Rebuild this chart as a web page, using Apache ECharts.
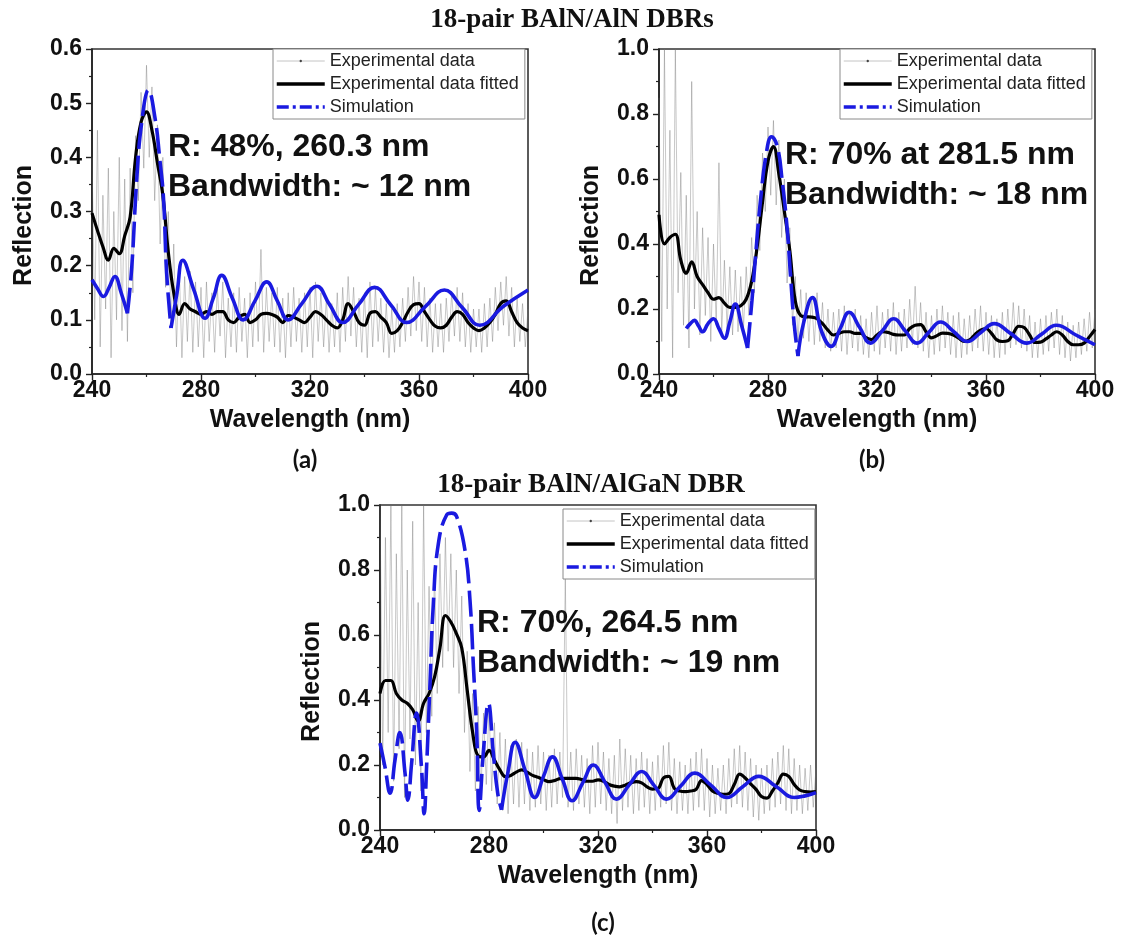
<!DOCTYPE html>
<html><head><meta charset="utf-8">
<script src="https://cdn.jsdelivr.net/npm/echarts@6/dist/echarts.min.js"></script>
<style>html,body{margin:0;padding:0;background:#fff}#c{width:1126px;height:936px}</style>
</head><body><div id="c"></div>
<script>
// ---------- DATA ----------
const WL_EVEN = [240,242,244,246,248,250,252,254,256,258,260,262,264,266,268,270,272,274,276,278,280,282,284,286,288,290,292,294,296,298,300,302,304,306,308,310,312,314,316,318,320,322,324,326,328,330,332,334,336,338,340,342,344,346,348,350,352,354,356,358,360,362,364,366,368,370,372,374,376,378,380,382,384,386,388,390,392,394,396,398,400];
const WL_ODD = [241,243,245,247,249,251,253,255,257,259,261,263,265,267,269,271,273,275,277,279,281,283,285,287,289,291,293,295,297,299,301,303,305,307,309,311,313,315,317,319,321,323,325,327,329,331,333,335,337,339,341,343,345,347,349,351,353,355,357,359,361,363,365,367,369,371,373,375,377,379,381,383,385,387,389,391,393,395,397,399];
const NAMES = ['Experimental data','Experimental data fitted','Simulation'];

// Panel (a) 18-pair BAlN/AlN
const FIT_A = [0.297,0.265,0.235,0.21,0.232,0.222,0.255,0.29,0.40,0.465,0.484,0.45,0.39,0.33,0.225,0.15,0.11,0.13,0.12,0.115,
 0.11,0.115,0.11,0.115,0.115,0.1,0.095,0.105,0.11,0.095,
 0.1,0.11,0.112,0.11,0.105,0.095,0.108,0.105,0.1,0.095,
 0.105,0.115,0.11,0.1,0.09,0.085,0.1,0.13,0.115,0.095,
 0.09,0.112,0.115,0.105,0.095,0.075,0.08,0.095,0.115,0.128,
 0.13,0.115,0.1,0.088,0.085,0.09,0.105,0.115,0.11,0.095,
 0.085,0.08,0.085,0.095,0.11,0.13,0.135,0.115,0.095,0.085,0.08];
const EXP_A_HI = [0.40,0.45,0.33,0.38,0.30,0.40,0.36,0.38,0.44,0.52,0.57,0.53,0.46,0.40,0.30,0.24,0.20,0.18,0.19,0.17,
 0.16,0.17,0.15,0.16,0.17,0.14,0.15,0.16,0.14,0.15,
 0.17,0.23,0.16,0.15,0.16,0.14,0.15,0.16,0.14,0.15,
 0.16,0.17,0.15,0.14,0.13,0.15,0.16,0.18,0.16,0.14,
 0.15,0.17,0.16,0.14,0.13,0.12,0.13,0.14,0.16,0.18,
 0.17,0.16,0.14,0.13,0.13,0.14,0.15,0.16,0.15,0.13,
 0.12,0.12,0.13,0.14,0.16,0.17,0.18,0.16,0.14,0.13,0.12];
const EXP_A_LO = [0.10,0.05,0.12,0.03,0.10,0.08,0.06,0.15,0.32,0.38,0.40,0.32,0.24,0.16,0.09,0.05,0.03,0.06,0.04,0.05,
 0.03,0.06,0.04,0.07,0.03,0.05,0.04,0.06,0.03,0.05,
 0.06,0.04,0.06,0.05,0.04,0.03,0.05,0.06,0.04,0.05,
 0.03,0.06,0.05,0.04,0.05,0.04,0.06,0.07,0.05,0.04,
 0.03,0.05,0.06,0.04,0.03,0.04,0.05,0.06,0.07,0.08,
 0.06,0.05,0.04,0.05,0.04,0.06,0.07,0.06,0.05,0.04,
 0.05,0.04,0.05,0.06,0.08,0.09,0.07,0.05,0.06,0.05];
const SIM_A_X = [240,242,244.2,246.3,248.4,250.7,253,254.6,256.4,258.2,260.7,263.2,264.8,266.2,267.4,269,271.2,273.3,277.4,281.5,284.5,287.6,291.5,295.5,299.8,304.1,308,312,317,322.5,327.2,332,337.8,343.7,349.6,355.5,362.4,369.3,375.8,382.3,391,400];
const SIM_A_Y = [0.174,0.158,0.143,0.16,0.18,0.15,0.112,0.198,0.358,0.463,0.524,0.47,0.4,0.327,0.186,0.085,0.15,0.21,0.155,0.103,0.14,0.182,0.14,0.1,0.135,0.17,0.135,0.1,0.13,0.162,0.128,0.095,0.128,0.16,0.128,0.095,0.125,0.155,0.123,0.09,0.125,0.155];
const DASH_A = [253, 269];

// Panel (b)
const FIT_B = [0.49,0.40,0.42,0.43,0.35,0.31,0.345,0.30,0.275,0.25,0.23,0.235,0.218,0.205,0.205,0.21,0.23,0.285,0.39,0.53,
 0.655,0.70,0.615,0.50,0.38,0.225,0.18,0.176,0.175,0.17,
 0.155,0.135,0.12,0.125,0.13,0.13,0.125,0.125,0.112,0.106,
 0.12,0.13,0.128,0.122,0.12,0.12,0.14,0.15,0.152,0.13,
 0.111,0.118,0.126,0.125,0.12,0.11,0.10,0.105,0.122,0.135,
 0.14,0.125,0.105,0.10,0.102,0.125,0.147,0.143,0.12,0.097,
 0.098,0.108,0.12,0.13,0.12,0.10,0.09,0.09,0.095,0.115,0.137];
const EXP_B_HI = [0.85,1.0,0.75,1.0,0.62,0.55,0.9,0.5,0.45,0.42,0.40,0.65,0.35,0.33,0.32,0.30,0.33,0.42,0.55,0.68,
 0.76,0.78,0.72,0.6,0.45,0.3,0.26,0.25,0.24,0.25,
 0.22,0.2,0.19,0.2,0.21,0.19,0.2,0.18,0.17,0.19,
 0.21,0.19,0.2,0.22,0.19,0.2,0.23,0.27,0.22,0.19,
 0.18,0.2,0.21,0.19,0.18,0.19,0.17,0.18,0.2,0.21,
 0.19,0.18,0.17,0.19,0.2,0.22,0.21,0.2,0.18,0.16,
 0.17,0.18,0.19,0.2,0.18,0.16,0.15,0.16,0.17,0.19,0.2];
const EXP_B_LO = [0.1,0.2,0.05,0.25,0.15,0.08,0.2,0.12,0.18,0.1,0.15,0.12,0.14,0.12,0.13,0.14,0.18,0.25,0.38,0.5,
 0.55,0.52,0.42,0.28,0.15,0.1,0.11,0.1,0.09,0.1,
 0.08,0.07,0.08,0.07,0.06,0.08,0.07,0.06,0.05,0.07,
 0.06,0.08,0.07,0.06,0.07,0.08,0.09,0.08,0.07,0.05,
 0.06,0.07,0.08,0.06,0.05,0.05,0.06,0.07,0.08,0.07,
 0.06,0.05,0.05,0.06,0.08,0.09,0.08,0.07,0.05,0.05,
 0.06,0.07,0.08,0.06,0.05,0.04,0.05,0.06,0.07,0.08];
const SIM_B_X = [250,251.5,253,254.5,256,258,260,262,264,266,268,270.3,272.5,274.1,275.4,277.2,279.4,281.3,283.4,285.2,287,288.2,289.6,291,293,296.3,299.7,303.2,306.5,309.8,313.7,317.6,321.9,326.1,330.4,334.7,339,343.3,348.2,353.2,358.1,363,369,375,380.3,385.8,393,400];
const SIM_B_Y = [0.14,0.155,0.165,0.148,0.13,0.155,0.17,0.14,0.11,0.16,0.215,0.15,0.08,0.225,0.36,0.53,0.68,0.73,0.70,0.595,0.45,0.31,0.155,0.055,0.155,0.235,0.13,0.085,0.14,0.19,0.142,0.095,0.132,0.17,0.132,0.095,0.128,0.16,0.13,0.1,0.128,0.155,0.125,0.095,0.122,0.15,0.12,0.09];
const DASH_B = [272.5, 291];

// Panel (c) 18-pair BAlN/AlGaN
const FIT_C = [0.42,0.46,0.46,0.42,0.40,0.39,0.37,0.335,0.39,0.42,0.47,0.56,0.66,0.64,0.605,0.56,0.43,0.30,0.228,0.225,
 0.245,0.215,0.185,0.164,0.168,0.178,0.185,0.178,0.168,0.162,
 0.155,0.149,0.152,0.158,0.159,0.159,0.159,0.155,0.15,0.15,
 0.154,0.15,0.14,0.135,0.133,0.138,0.145,0.149,0.145,0.133,
 0.126,0.128,0.16,0.165,0.128,0.12,0.118,0.12,0.125,0.152,
 0.14,0.12,0.113,0.11,0.112,0.14,0.172,0.16,0.142,0.125,
 0.103,0.098,0.12,0.145,0.172,0.165,0.14,0.123,0.118,0.117,0.118];
const EXP_C_HI = [1.0,0.9,1.0,0.85,1.0,0.8,0.95,0.7,1.0,0.75,0.8,0.85,0.9,0.85,0.8,0.72,0.55,0.42,0.38,0.36,
 0.38,0.33,0.3,0.28,0.26,0.28,0.27,0.25,0.24,0.26,
 0.24,0.23,0.25,0.24,0.78,0.24,0.25,0.23,0.22,0.26,
 0.27,0.24,0.22,0.23,0.28,0.25,0.23,0.22,0.24,0.22,
 0.21,0.23,0.26,0.27,0.22,0.21,0.2,0.22,0.24,0.25,
 0.22,0.2,0.19,0.2,0.22,0.25,0.26,0.24,0.22,0.2,
 0.19,0.2,0.22,0.24,0.26,0.25,0.22,0.2,0.19,0.2,0.19];
const EXP_C_LO = [0.2,0.3,0.15,0.25,0.1,0.28,0.2,0.12,0.3,0.35,0.42,0.5,0.55,0.5,0.42,0.3,0.18,0.12,0.1,0.14,
 0.12,0.08,0.06,0.05,0.08,0.07,0.08,0.06,0.07,0.08,
 0.06,0.07,0.08,0.1,0.07,0.06,0.08,0.07,0.05,0.07,
 0.08,0.06,0.05,0.02,0.06,0.07,0.05,0.06,0.07,0.05,
 0.06,0.07,0.08,0.06,0.05,0.06,0.05,0.06,0.07,0.06,
 0.04,0.05,0.06,0.05,0.07,0.08,0.07,0.06,0.04,0.03,
 0.05,0.06,0.07,0.08,0.06,0.05,0.06,0.05,0.06,0.07];
const SIM_C_X = [240,241.8,243.7,245.5,247.3,249.2,250.2,251.6,253.4,255.2,256.2,257.1,258.3,259.6,261.4,264.5,266.3,268.1,271.2,273,274.3,275.5,276.4,277.9,279.8,281.6,283.2,284.6,287,289.6,293.2,296.8,300,303.3,306.9,310.5,314.4,318.3,322.5,326.8,331.4,336,340.5,345.1,350.3,355.5,361.4,367.3,373.1,379,385.5,392,396,400];
const SIM_C_Y = [0.267,0.195,0.113,0.215,0.30,0.174,0.092,0.205,0.36,0.195,0.05,0.195,0.44,0.70,0.88,0.97,0.975,0.965,0.86,0.71,0.50,0.30,0.06,0.236,0.39,0.236,0.113,0.062,0.18,0.27,0.185,0.1,0.165,0.225,0.157,0.09,0.145,0.2,0.148,0.095,0.138,0.18,0.138,0.095,0.135,0.175,0.138,0.1,0.133,0.165,0.133,0.1,0.105,0.115];
const DASH_C = [240, 284.6];

const TITLE_TOP = '18-pair BAlN/AlN DBRs';
const TITLE_BOTTOM = '18-pair BAlN/AlGaN DBR';
const ANNOT_A = ['R: 48%, 260.3 nm', 'Bandwidth: ~ 12 nm'];
const ANNOT_B = ['R: 70% at 281.5 nm', 'Bandwidth: ~ 18 nm'];
const ANNOT_C = ['R: 70%, 264.5 nm', 'Bandwidth: ~ 19 nm'];
const SUBLABELS = ['(a)', '(b)', '(c)'];

// ---------- STYLE / LAYOUT ----------
const FONT = '"Liberation Sans", Arial, sans-serif';
const BLUE = '#1a1ae0';
const AXC = '#222';

const PANELS = [
  {grid:{left:92, top:49, width:436, height:325}, yMax:0.6, yInt:0.1, fit:FIT_A, hi:EXP_A_HI, lo:EXP_A_LO, sx:SIM_A_X, sy:SIM_A_Y, dash:DASH_A, legend:{left:273, top:49}},
  {grid:{left:659, top:49, width:436, height:325}, yMax:1.0, yInt:0.2, fit:FIT_B, hi:EXP_B_HI, lo:EXP_B_LO, sx:SIM_B_X, sy:SIM_B_Y, dash:DASH_B, legend:{left:840, top:49}},
  {grid:{left:380, top:505, width:436, height:325}, yMax:1.0, yInt:0.2, fit:FIT_C, hi:EXP_C_HI, lo:EXP_C_LO, sx:SIM_C_X, sy:SIM_C_Y, dash:DASH_C, legend:{left:563, top:509}}
];

function expPairs(hi, lo) {
  const d = [];
  for (let i = 0; i < WL_EVEN.length; i++) {
    d.push([WL_EVEN[i], hi[i]]);
    if (i < WL_ODD.length) d.push([WL_ODD[i], lo[i]]);
  }
  return d;
}
function pairs(xs, ys) { return xs.map((x, i) => [x, ys[i]]); }
function simSplit(xs, ys, range) {
  const lo = range[0], hi = range[1];
  const solid = [], dashed = [];
  let broke = false;
  for (let i = 0; i < xs.length; i++) {
    const p = [xs[i], ys[i]];
    if (xs[i] >= lo && xs[i] <= hi) dashed.push(p);
    if (xs[i] <= lo) solid.push(p);
    else if (xs[i] >= hi) {
      if (!broke) { solid.push([(lo + hi) / 2, null]); broke = true; }
      solid.push(p);
    }
  }
  return {solid, dashed};
}

const grids = [], xAxes = [], yAxes = [], series = [], legends = [];
PANELS.forEach((P, i) => {
  grids.push(Object.assign({show:true, borderColor:'#333', borderWidth:1.6, backgroundColor:'transparent', containLabel:false}, P.grid));
  xAxes.push({
    gridIndex:i, type:'value', min:240, max:400, interval:40,
    axisLine:{show:true, onZero:false, lineStyle:{color:AXC, width:1.6}},
    axisTick:{show:true, inside:false, length:6, lineStyle:{color:AXC, width:1.4}},
    minorTick:{show:true, splitNumber:2, length:3, lineStyle:{color:AXC, width:1.2}},
    axisLabel:{fontSize:23, fontWeight:'bold', fontFamily:FONT, color:'#111', margin:5},
    splitLine:{show:false},
    name:'Wavelength (nm)', nameLocation:'middle', nameGap:34,
    nameTextStyle:{fontSize:25, fontWeight:'bold', fontFamily:FONT, color:'#111'}
  });
  yAxes.push({
    gridIndex:i, type:'value', min:0, max:P.yMax, interval:P.yInt,
    axisLine:{show:true, onZero:false, lineStyle:{color:AXC, width:1.6}},
    axisTick:{show:true, inside:false, length:6, lineStyle:{color:AXC, width:1.4}},
    minorTick:{show:true, splitNumber:2, length:3, lineStyle:{color:AXC, width:1.2}},
    axisLabel:{fontSize:23, fontWeight:'bold', fontFamily:FONT, color:'#111', margin:10, formatter:v => v.toFixed(1)},
    splitLine:{show:false},
    name:'Reflection', nameLocation:'middle', nameRotate:90, nameGap:55,
    nameTextStyle:{fontSize:25, fontWeight:'bold', fontFamily:FONT, color:'#111', padding:[0,28,0,0]}
  });
  const sim = simSplit(P.sx, P.sy, P.dash);
  series.push({
    name:NAMES[0], type:'line', xAxisIndex:i, yAxisIndex:i, data:expPairs(P.hi, P.lo),
    symbol:'circle', showSymbol:false, silent:true,
    lineStyle:{color:'rgba(110,110,110,0.38)', width:1.0}, itemStyle:{color:'#555'}, z:1
  });
  series.push({
    name:NAMES[1], type:'line', xAxisIndex:i, yAxisIndex:i, data:pairs(WL_EVEN, P.fit),
    smooth:0.4, symbol:'none', silent:true,
    lineStyle:{color:'#000', width:3.2}, itemStyle:{color:'#000'}, z:2
  });
  series.push({
    name:NAMES[2], type:'line', xAxisIndex:i, yAxisIndex:i, data:sim.solid,
    smooth:0.45, symbol:'none', silent:true, connectNulls:false,
    lineStyle:{color:BLUE, width:3.6}, itemStyle:{color:BLUE}, z:3
  });
  series.push({
    name:NAMES[2], type:'line', xAxisIndex:i, yAxisIndex:i, data:sim.dashed,
    smooth:0.45, symbol:'none', silent:true,
    lineStyle:{color:BLUE, width:3.6, type:[26,7]}, itemStyle:{color:BLUE}, z:3
  });
  legends.push({
    left:P.legend.left, top:P.legend.top, orient:'vertical', selectedMode:false,
    itemWidth:48, itemHeight:3, itemGap:5, padding:[3,6,3,2],
    borderColor:'#8a8a8a', borderWidth:1, backgroundColor:'#fff',
    textStyle:{fontSize:18, lineHeight:18, fontFamily:FONT, color:'#222'},
    data:[
      {name:NAMES[0], itemStyle:{color:'#444', opacity:1, borderWidth:0}, lineStyle:{color:'#c4c4c4', width:1, type:'solid'}},
      {name:NAMES[1], itemStyle:{opacity:0, borderWidth:0}, lineStyle:{color:'#000', width:3.5, type:'solid'}},
      {name:NAMES[2], itemStyle:{opacity:0, borderWidth:0}, lineStyle:{color:BLUE, width:3.5, type:[12,4,3,4]}}
    ]
  });
});

function txt(text, x, y, font, align) {
  return {type:'text', x:x, y:y, silent:true, z:10,
    style:{text:text, font:font, fill:'#111', textAlign:align || 'left', textVerticalAlign:'middle'}};
}
const ANN_FONT = 'bold 32px ' + FONT;
const TITLE_FONT = 'bold 27px "Liberation Serif", "Times New Roman", serif';
const SUB_FONT = 'bold 24px Lato, "Open Sans", sans-serif';
const graphics = [
  txt(TITLE_TOP, 572, 20, TITLE_FONT, 'center'),
  txt(TITLE_BOTTOM, 591, 485, TITLE_FONT, 'center'),
  txt(ANNOT_A[0], 168, 147, ANN_FONT), txt(ANNOT_A[1], 168, 187, ANN_FONT),
  txt(ANNOT_B[0], 785, 155, ANN_FONT), txt(ANNOT_B[1], 785, 195, ANN_FONT),
  txt(ANNOT_C[0], 477, 623, ANN_FONT), txt(ANNOT_C[1], 477, 663, ANN_FONT),
  txt(SUBLABELS[0], 305, 460, SUB_FONT, 'center'),
  txt(SUBLABELS[1], 872, 460, SUB_FONT, 'center'),
  txt(SUBLABELS[2], 603, 923, SUB_FONT, 'center')
];

const chart = echarts.init(document.getElementById('c'), null, {renderer:'canvas'});
chart.setOption({
  animation:false,
  backgroundColor:'#fff',
  grid:grids, xAxis:xAxes, yAxis:yAxes, series:series, legend:legends, graphic:graphics
});
</script>
</body></html>
